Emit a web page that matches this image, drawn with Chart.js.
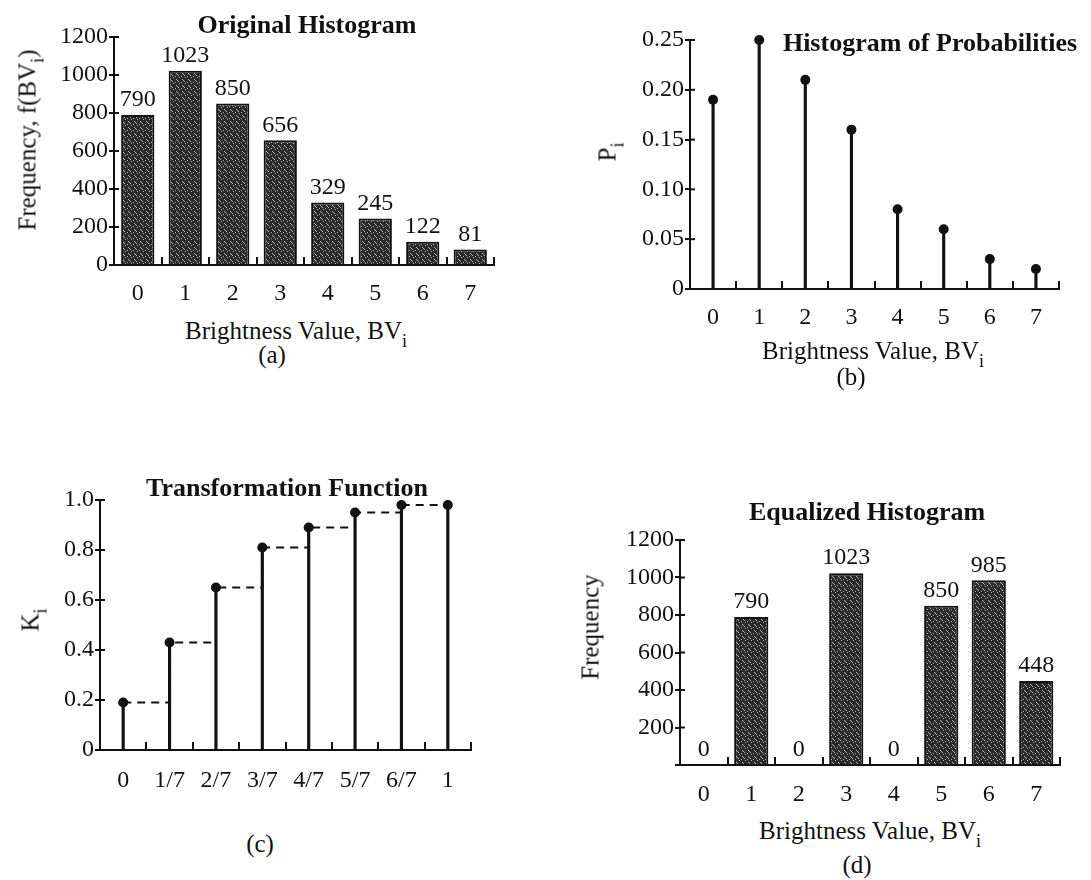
<!DOCTYPE html>
<html>
<head>
<meta charset="utf-8">
<script src="https://cdn.jsdelivr.net/npm/chart.js@4"></script>
<style>
  html, body { margin: 0; padding: 0; background: #ffffff; }
  body { width: 1091px; height: 880px; position: relative; overflow: hidden;
         font-family: 'Liberation Serif', 'Times New Roman', serif; color: #111; }
  canvas { position: absolute; }
  .txt { position: absolute; white-space: nowrap; line-height: 1; transform: translate(-50%, -50%); z-index: 5; }
  .ttl { font-weight: bold; font-size: 26px; }
  .ax { font-size: 25px; }
  .rot { transform: translate(-50%, -50%) rotate(-90deg); }
  sub { font-size: 0.72em; vertical-align: baseline; position: relative; top: 0.42em; line-height: 0; }
</style>
</head>
<body>
<canvas id="chartA" width="464" height="298" style="left:34px;top:17px"></canvas>
<canvas id="chartB" width="454" height="319" style="left:610px;top:20px"></canvas>
<canvas id="chartC" width="456" height="320" style="left:20px;top:480px"></canvas>
<canvas id="chartD" width="464" height="295" style="left:600px;top:520px"></canvas>

<div class="txt ttl" style="left:307px;top:25px">Original Histogram</div>
<div class="txt ax rot" style="left:27px;top:140px">Frequency, f(BV<sub>i</sub>)</div>
<div class="txt ax" style="left:296px;top:330px">Brightness Value, BV<sub>i</sub></div>
<div class="txt ax" style="left:272px;top:354px">(a)</div>

<div class="txt ttl" style="left:930px;top:43px">Histogram of Probabilities</div>
<div class="txt ax rot" style="left:607px;top:152px">P<sub>i</sub></div>
<div class="txt ax" style="left:873px;top:350px">Brightness Value, BV<sub>i</sub></div>
<div class="txt ax" style="left:851px;top:376px">(b)</div>

<div class="txt ttl" style="left:287px;top:488px">Transformation Function</div>
<div class="txt ax rot" style="left:30px;top:620px">K<sub>i</sub></div>
<div class="txt ax" style="left:260px;top:843px">(c)</div>

<div class="txt ttl" style="left:867px;top:512px">Equalized Histogram</div>
<div class="txt ax rot" style="left:590px;top:627px">Frequency</div>
<div class="txt ax" style="left:870px;top:830px">Brightness Value, BV<sub>i</sub></div>
<div class="txt ax" style="left:857px;top:864px">(d)</div>

<script>
// ---------- data ----------
const bvCategories = ['0', '1', '2', '3', '4', '5', '6', '7'];
const originalFrequency = [790, 1023, 850, 656, 329, 245, 122, 81];
const probabilities = [0.19, 0.25, 0.21, 0.16, 0.08, 0.06, 0.03, 0.02];
const kCategories = ['0', '1/7', '2/7', '3/7', '4/7', '5/7', '6/7', '1'];
const kValues = [0.19, 0.43, 0.65, 0.81, 0.89, 0.95, 0.98, 0.98];
const equalizedFrequency = [0, 790, 0, 1023, 0, 850, 985, 448];

// ---------- styling ----------
const INK = '#111111';
Chart.defaults.font.family = "'Liberation Serif', 'Times New Roman', serif";
Chart.defaults.font.size = 24;
Chart.defaults.color = INK;

function stipple() {
  const c = document.createElement('canvas');
  c.width = 6; c.height = 6;
  const g = c.getContext('2d');
  g.fillStyle = '#2a2a2a'; g.fillRect(0, 0, 6, 6);
  g.fillStyle = '#b4b4b4';
  [[1,0],[4,2],[0,4],[3,5],[5,3]].forEach(p => g.fillRect(p[0], p[1], 1, 1));
  return g.createPattern(c, 'repeat');
}
const barFill = stipple();

// inward tick marks on both axes
const axisDecor = {
  id: 'axisDecor',
  afterDatasetsDraw(chart) {
    const ctx = chart.ctx, xs = chart.scales.x, ys = chart.scales.y;
    ctx.save();
    ctx.strokeStyle = INK; ctx.lineWidth = 2;
    const n = chart.data.labels.length;
    for (let k = 0; k < n; k++) {
      const px = Math.round(xs.getPixelForValue(k + 0.5));
      ctx.beginPath(); ctx.moveTo(px, ys.bottom); ctx.lineTo(px, ys.bottom - 8); ctx.stroke();
    }
    ys.ticks.forEach((t, i) => {
      const py = ys.getPixelForTick(i);
      ctx.beginPath(); ctx.moveTo(xs.left, py); ctx.lineTo(xs.left + 5, py); ctx.stroke();
    });
    ctx.restore();
  }
};

// value labels above bars
const valueLabels = {
  id: 'valueLabels',
  afterDatasetsDraw(chart) {
    const ctx = chart.ctx;
    const ds = chart.data.datasets[0];
    const meta = chart.getDatasetMeta(0);
    ctx.save();
    ctx.fillStyle = INK;
    ctx.font = "24px 'Liberation Serif', 'Times New Roman', serif";
    ctx.textAlign = 'center';
    ctx.textBaseline = 'bottom';
    meta.data.forEach((el, i) => {
      ctx.fillText(String(ds.data[i]), el.x, el.y - 3);
    });
    ctx.restore();
  }
};

function yAxis(max, step, fmt) {
  return {
    min: 0, max: max,
    border: { display: true, color: INK, width: 2 },
    grid: { drawOnChartArea: false, drawTicks: true, tickLength: 5, color: INK, lineWidth: 2 },
    ticks: { stepSize: step, padding: 1, color: INK, callback: fmt },
    afterFit(scale) { scale.width = 80; }
  };
}
function xAxis(pad) {
  return {
    type: 'category',
    offset: true,
    border: { display: true, color: INK, width: 2 },
    grid: { display: false, drawTicks: false },
    ticks: { padding: pad, color: INK, maxRotation: 0, autoSkip: false },
    afterFit(scale) { scale.height = 50; }
  };
}
const baseOpts = {
  responsive: false,
  animation: false,
  layout: { padding: { top: 20, right: 4, bottom: 0, left: 0 } },
  plugins: { legend: { display: false }, tooltip: { enabled: false }, title: { display: false } }
};

// (a) Original histogram
new Chart(document.getElementById('chartA'), {
  type: 'bar',
  data: {
    labels: bvCategories,
    datasets: [{ data: originalFrequency, backgroundColor: barFill, borderColor: INK, borderWidth: 2,
                 barPercentage: 0.7, categoryPercentage: 1 }]
  },
  options: Object.assign({}, baseOpts, {
    scales: { x: xAxis(14), y: yAxis(1200, 200, v => String(v)) }
  }),
  plugins: [axisDecor, valueLabels]
});

// (b) Histogram of probabilities
new Chart(document.getElementById('chartB'), {
  type: 'bar',
  data: {
    labels: bvCategories,
    datasets: [
      { type: 'line', data: probabilities, showLine: false, pointRadius: 5, clip: false,
        pointBackgroundColor: INK, pointBorderColor: INK, pointBorderWidth: 0 },
      { type: 'bar', data: probabilities, backgroundColor: INK, borderWidth: 0, barThickness: 2.5 }
    ]
  },
  options: Object.assign({}, baseOpts, {
    scales: { x: xAxis(14), y: yAxis(0.25, 0.05, v => v === 0 ? '0' : Number(v).toFixed(2)) }
  }),
  plugins: [axisDecor]
});

// (c) Transformation function
new Chart(document.getElementById('chartC'), {
  type: 'bar',
  data: {
    labels: kCategories,
    datasets: [
      { type: 'line', data: kValues, showLine: false, pointRadius: 5, clip: false,
        pointBackgroundColor: INK, pointBorderColor: INK, pointBorderWidth: 0 },
      { type: 'line', data: kValues, stepped: 'before', borderColor: INK, borderWidth: 2,
        borderDash: [8, 6], pointRadius: 0, fill: false },
      { type: 'bar', data: kValues, backgroundColor: INK, borderWidth: 0, barThickness: 2.5 }
    ]
  },
  options: Object.assign({}, baseOpts, {
    scales: { x: xAxis(16), y: yAxis(1.0, 0.2, v => v === 0 ? '0' : Number(v).toFixed(1)) }
  }),
  plugins: [axisDecor]
});

// (d) Equalized histogram
new Chart(document.getElementById('chartD'), {
  type: 'bar',
  data: {
    labels: bvCategories,
    datasets: [{ data: equalizedFrequency, backgroundColor: barFill, borderColor: INK, borderWidth: 2,
                 barPercentage: 0.72, categoryPercentage: 1 }]
  },
  options: Object.assign({}, baseOpts, {
    scales: { x: xAxis(15), y: yAxis(1200, 200, v => v === 0 ? '' : String(v)) }
  }),
  plugins: [axisDecor, valueLabels]
});
</script>
</body>
</html>
